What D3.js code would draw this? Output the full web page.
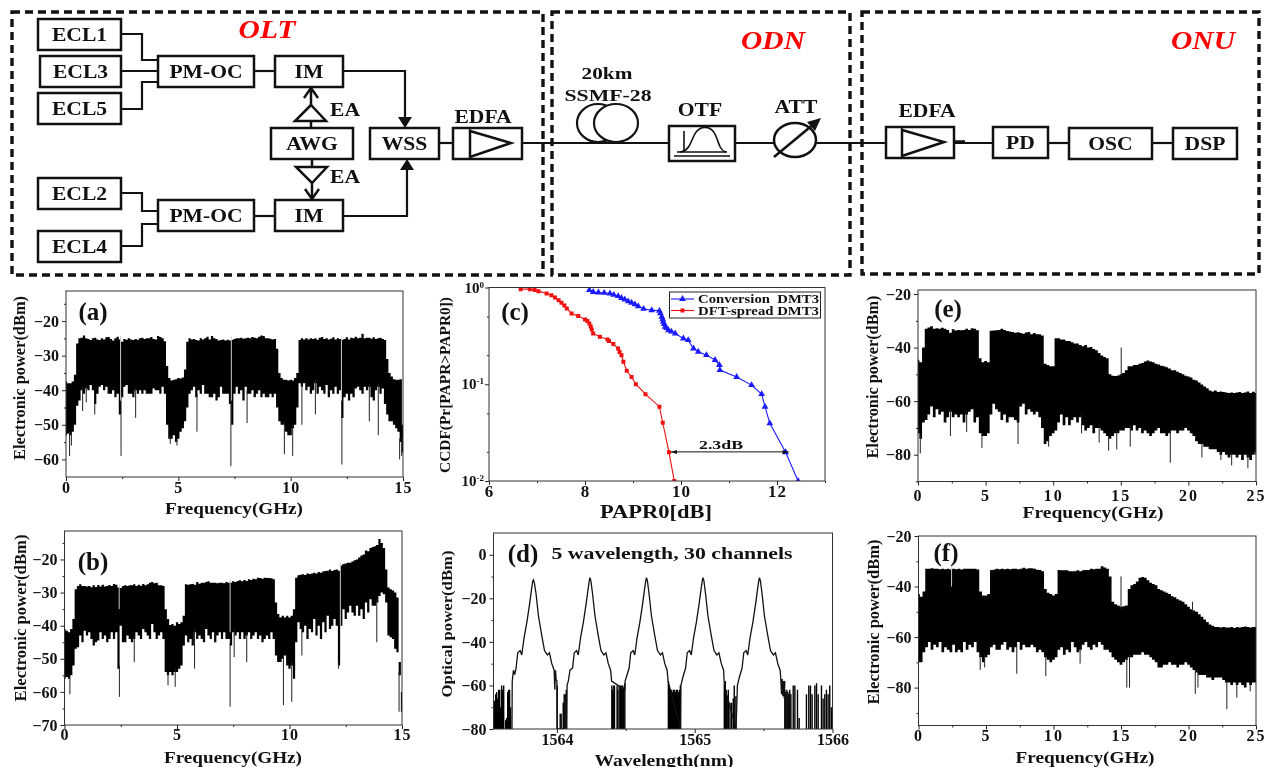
<!DOCTYPE html>
<html>
<head>
<meta charset="utf-8">
<script src="https://cdn.jsdelivr.net/npm/d3@7"></script>
<style>
  html, body { margin: 0; padding: 0; background: #fff; }
  svg { display: block; filter: blur(0.45px); }
  text { font-family: "Liberation Serif", serif; font-weight: bold; fill: #111; }
</style>
</head>
<body>
<div id="chart"></div>
<script>
// ----- DATA -----
// spectra: band top and band bottom per step of frequency (one row = 1 GHz)
const aTop = [
  -37.5,-38,-38,-37.5,-35.5,-26.5,-25,-24.8,-24.2,-25,
  -25.2,-25.5,-25,-24.8,-25.3,-25.5,-25,-25.3,-24.7,-24.6,
  -25.2,-25.6,-25,-24.5,-25.3,-26,-25.2,-25.4,-25,-25.3,
  -25.5,-25.2,-25.4,-25,-24.8,-25.2,-25,-25,-24.6,-25.2,
  -25.3,-24.3,-24.6,-25,-25.8,-33,-36.5,-37.2,-37,-36.8,
  -36.5,-36.6,-36.3,-34,-26,-25,-25.3,-25.2,-25.5,-25.6,
  -25,-25.3,-25,-24.5,-25.3,-24.3,-25,-25.2,-25.6,-25.5,
  -25.3,-25.6,-25.4,-25.6,-25.5,-25.2,-25,-25,-24.8,-25.1,
  -25,-24.8,-25,-24.6,-24.8,-25,-24.5,-24.2,-24.3,-25,
  -25,-25.1,-25.3,-25.2,-28,-35,-36.5,-37,-37,-37.2,
  -37,-37.2,-36.5,-35,-25.5,-25,-25.3,-25,-25.3,-25,
  -25.2,-25,-25.4,-24.8,-24.6,-25.2,-25,-25.3,-25.1,-24.7,
  -25.3,-25,-25.2,-25.4,-25.2,-24.7,-25.3,-24.8,-25,-24.5,
  -25,-24.8,-23.7,-25,-24.8,-24.8,-25.1,-24.7,-25.2,-25,
  -24.8,-25.2,-25.5,-31,-35,-36,-36.8,-37,-37,-36.8,
  -50];
const aLow = [
  -53,-52.5,-53,-52,-50,-44.5,-43,-40,-41,-39.5,
  -40,-38.5,-40,-44,-41,-39,-38.5,-40,-39,-41,
  -41,-40,-42,-41,-47,-42,-39,-38.5,-41,-41,
  -42,-40,-41,-40,-41,-40,-41,-41,-41,-39.5,
  -40,-40,-41,-39,-41,-50,-54,-54,-53,-55,
  -54,-52,-51,-49,-45,-41,-40,-39,-42,-40,
  -41,-38.5,-41,-41,-42,-42,-41,-43,-42,-39,
  -41,-41,-41,-44,-50,-41,-39,-41,-40,-43,
  -39,-41,-41,-40,-42,-41,-40,-42,-41,-42,
  -42,-41,-42,-41,-45,-49,-50,-50,-52,-53,
  -53,-51,-50,-45,-38,-39,-38,-40,-39,-41,
  -40,-38,-41,-39,-40,-41,-38.5,-42,-40,-41,
  -39,-41,-40,-48,-42,-41,-43,-41,-42,-39.5,
  -39,-40,-41,-39,-40,-39,-42,-43,-40,-39,
  -41,-39.5,-44,-47,-49,-49,-50,-51,-52,-55,
  -58];
const aSpikeF = [0.16,0.24,0.74,0.9,1.28,2.45,3.1,4.64,4.94,5.83,7.34,8.06,9.72,10.09,10.5,11.1,12.28,13.5,13.9,14.85,14.94];
const aSpikeV = [-59,-56,-46,-43.5,-47,-59,-48,-55.5,-56,-52,-62,-49.5,-58.5,-59,-50,-47,-61.5,-49,-53,-60,-59];
const aNotchF = [2.43,7.36,12.26];
const aNotchV = [-43,-43,-43];

const bTop = [
  -41,-41.5,-42,-41,-38,-29,-28,-27.5,-28,-28,
  -28.2,-28,-28.4,-27.8,-28.3,-27.7,-28.2,-27.6,-28.2,-28,
  -27.7,-28,-27.4,-27.6,-28.5,-28.6,-28,-27.8,-28,-27.8,
  -27.8,-27.5,-28,-27.6,-27.9,-27.4,-27.8,-27.5,-27,-26.8,
  -27.2,-27,-27.8,-27.8,-28,-35,-38,-39.8,-39.5,-40,
  -39,-39.5,-39,-37,-27.5,-27.6,-27.5,-27.4,-27.6,-26.8,
  -27.3,-27,-27,-26.8,-26.6,-27,-27,-27,-27.2,-27,
  -27,-27.2,-26.8,-27,-27,-26.6,-26.8,-26.5,-26.3,-26.6,
  -26.2,-26.5,-26,-26.2,-25.8,-26,-25.5,-25.6,-25.8,-25.5,
  -25.6,-25.6,-25.7,-26,-33,-36.5,-37.5,-37,-37.5,-37,
  -37.5,-37,-35,-25.5,-24.8,-24.6,-24.5,-24.7,-24.2,-24.4,
  -24.2,-24,-24.2,-23.8,-24,-23.6,-23.5,-23.4,-23,-23.5,
  -23.2,-23,-23.4,-21.8,-21.4,-21.2,-21,-21,-20.6,-20.2,
  -20,-19.4,-18.8,-18.5,-17.3,-17.5,-16.5,-16.2,-16,-15.6,
  -13.8,-15,-16.5,-23,-28.5,-29,-29.4,-30,-31.5,-51,
  -60];
const bLow = [
  -56,-55.5,-56,-55,-52,-47,-46.5,-43,-45,-41.5,
  -43,-42,-44,-46,-45,-44.5,-42,-44,-43,-45,
  -44,-42,-44,-42,-53,-40,-45,-45,-43,-44,
  -45,-44,-42,-43,-44,-41,-42,-43,-44,-39.5,
  -42,-44,-43,-42,-44,-54,-55,-54,-55,-54,
  -54,-53,-52,-46,-43,-45,-44,-46,-42,-44,
  -43,-44,-45,-41,-43,-44,-42,-45,-43,-42,
  -44,-42,-44,-44,-46,-42,-43,-42,-44,-42,
  -44,-43,-42,-44,-43,-42,-44,-43,-45,-44,
  -43,-44,-42,-44,-49,-51,-51,-50,-49,-52,
  -53,-52,-56,-45,-39,-41,-42,-40,-44,-41,
  -42,-38,-43,-40,-44,-39,-42,-37,-41,-40,
  -38,-40,-52,-40,-35,-38,-36,-34,-36,-37,
  -34,-37,-35,-38,-33,-36,-32,-34,-34,-33,
  -31,-30,-30.5,-33,-43,-43.5,-44,-47,-48,-55,
  -66];
const bSpikeF = [0.24,2.44,3.1,4.6,4.92,5.78,7.36,7.54,8.1,9.73,10.1,10.55,12.18,13.88,14.87];
const bSpikeV = [-60.7,-61.5,-51,-58,-58.5,-53,-64.5,-49.5,-51,-64,-63,-49,-53,-45,-66];
const bNotchF = [2.43,7.36,12.26];
const bNotchV = [-35,-42,-40];

const eTop = [
  -44.5,-45.5,-40,-33,-32.5,
  -32,-33,-32.8,-33,-32.6,
  -33,-33.4,-34.5,-33.2,-33.6,
  -33.4,-33.5,-33.4,-33,-33.4,
  -32.8,-33,-33.5,-44,-45.5,
  -45,-45.5,-33.7,-33.6,-33.5,
  -33.4,-33,-33.4,-33.8,-34,
  -34.2,-34.5,-34.3,-34.6,-34.8,
  -34.4,-34.2,-35,-34.6,-35,
  -35,-35.5,-46,-46.5,-47,
  -47,-36.5,-36.5,-37,-37,
  -37.5,-37.5,-38,-38.5,-38.5,
  -39,-39.5,-39,-40,-39.8,
  -40.5,-41,-42,-43,-43.5,
  -44,-50,-50.5,-50.6,-50.4,
  -50,-49.5,-48.5,-47,-47,
  -46.5,-46.5,-46,-45.8,-45.2,
  -44.8,-45.2,-45.5,-46,-46.3,
  -46.8,-47,-47.3,-47.8,-48.5,
  -48.5,-49,-49.5,-50,-50.5,
  -50.8,-51.2,-52,-52.3,-53,
  -53.8,-54.5,-55.2,-56,-56.4,
  -56,-56.6,-56.4,-56.6,-56.8,
  -57,-56.8,-57,-56.8,-56.6,
  -57,-56.8,-56.4,-57,-56.5,
  -57];
const eLow = [
  -72,-74,-68,-67,-65,
  -62,-66,-63,-65,-64,
  -68,-66,-64,-66,-65,
  -66,-65,-68,-65,-64,
  -63,-68,-66,-72,-73,
  -73,-72,-65,-61,-63,
  -64,-67,-65,-68,-66,
  -66,-67,-68,-62,-61,
  -65,-63,-64,-65,-64,
  -66,-70,-76,-75,-73,
  -72,-71,-68,-65,-69,
  -66,-69,-67,-66,-68,
  -66,-69,-71,-70,-69,
  -72,-70,-70,-71,-72,
  -73,-74,-73,-72,-72,
  -71,-71,-70,-70,-71,
  -69,-71,-70,-72,-71,
  -72,-73,-72,-71,-70,
  -72,-72,-73,-72,-71,
  -71,-72,-71,-71,-70,
  -71,-72,-73,-75,-76,
  -76,-77,-77,-78,-78,
  -78,-79,-80,-79,-80,
  -81,-80,-80,-81,-80,
  -82,-80,-81,-82,-80,
  -79];
const eSpikeF = [0.17,2.4,3.6,4.73,7.4,9.66,12.1,13.4,14.1,14.7,15.7,18.66,21,22.4,23.2,24.4,24.95];
const eSpikeV = [-79.5,-73,-71.5,-77.5,-76,-77,-72,-75.5,-78.5,-78,-77,-83,-81,-82,-84,-85,-80];
const eUpF = [15.03];
const eUpV = [-40];

const fTop = [
  -43,-44,-42,-33,-33,
  -32.8,-33,-33,-33.2,-33,
  -33.2,-33,-33.3,-33,-33.2,
  -33,-33.3,-33,-33,-33,
  -33,-33,-33.3,-42,-43.5,
  -43.5,-43,-33.5,-33.4,-33,
  -33.2,-33,-33.2,-33,-33.2,
  -33,-33,-33.2,-33,-32.6,
  -33,-32.8,-32.8,-33,-33.4,
  -33.5,-34,-41,-42.5,-43,
  -43.5,-43,-33.5,-33.6,-33.6,
  -33.6,-34,-34,-34,-33.6,
  -34,-33.6,-33.5,-33.5,-33,
  -33.2,-33,-33,-32,-32.5,
  -33,-36,-46,-47,-47.5,
  -48,-47.8,-47.5,-41,-39.5,
  -39,-38,-36.5,-36.2,-36.5,
  -37.5,-38.5,-39,-39.5,-41,
  -41.5,-42,-42.5,-43,-43.8,
  -44.2,-45,-45.5,-46,-47,
  -48,-49,-49.5,-50,-51,
  -52,-53,-54,-55,-55.5,
  -56,-56,-56.2,-56,-56.2,
  -56.2,-56,-56.4,-56,-56.2,
  -56,-55.8,-56,-56.2,-56,
  -56];
const fLow = [
  -70,-70,-66,-64,-62,
  -65,-63,-64,-62,-66,
  -64,-65,-66,-63,-66,
  -65,-66,-62,-65,-63,
  -64,-62,-66,-68,-70,
  -68,-67,-64,-63,-65,
  -65,-63,-62,-65,-64,
  -66,-64,-62,-65,-63,
  -64,-64,-63,-64,-66,
  -65,-66,-68,-69,-70,
  -69,-68,-65,-64,-67,
  -65,-66,-62,-64,-66,
  -65,-63,-62,-64,-65,
  -63,-64,-62,-63,-65,
  -65,-66,-68,-69,-70,
  -71,-70,-69,-68,-68,
  -67,-67,-67,-66,-67,
  -67,-68,-69,-70,-72,
  -72,-71,-71,-70,-71,
  -71,-72,-71,-71,-70,
  -71,-72,-73,-74,-75,
  -75,-75,-76,-76,-77,
  -76,-76,-76,-77,-78,
  -78,-79,-78,-79,-78,
  -79,-80,-78,-79,-78,
  -78];
const fSpikeF = [4.57,4.9,7.28,9.43,11.97,15.43,15.63,20.5,20.7,22.84,23.58,24.57];
const fSpikeV = [-73,-72,-74.5,-75.5,-70.5,-80,-80,-82.5,-80,-88.5,-84,-81.5];
const fNotchF = [2.45];
const fNotchV = [-40];
const fUpF = [15.0,20.3];
const fUpV = [-36,-46];

// panel (c): CCDF curves
const blueX = [8.09,8.17,8.28,8.4,8.52,8.6,8.69,8.76,8.83,8.9,8.97,9.04,9.11,9.22,9.39,9.55,9.57,9.6,9.62,9.63,9.65,9.67,9.7,9.74,9.8,9.88,10.05,10.15,10.26,10.36,10.53,10.71,10.8,10.81,11.16,11.47,11.68,11.75,11.85,12.18,12.44];
const blueY = [0.94,0.9,0.888,0.88,0.867,0.84,0.814,0.78,0.752,0.72,0.695,0.67,0.641,0.602,0.583,0.574,0.54,0.498,0.47,0.442,0.42,0.393,0.38,0.362,0.35,0.335,0.297,0.286,0.234,0.217,0.2,0.178,0.158,0.14,0.119,0.098,0.079,0.0586,0.0394,0.0198,0.01];
const redX = [6.66,6.85,6.95,7.03,7.2,7.3,7.375,7.45,7.51,7.57,7.62,7.72,7.86,8.0,8.05,8.09,8.12,8.14,8.17,8.31,8.47,8.5,8.59,8.69,8.72,8.76,8.8,8.87,8.97,9.06,9.26,9.55,9.62,9.75,9.86];
const redY = [0.961,0.961,0.94,0.917,0.867,0.83,0.789,0.74,0.695,0.65,0.607,0.539,0.506,0.467,0.45,0.425,0.395,0.368,0.335,0.31,0.29,0.28,0.26,0.234,0.215,0.2,0.171,0.138,0.119,0.1,0.079,0.0586,0.04,0.0198,0.01];

// panel (d): optical spectrum trace and noise stems
const optX = [
  1563.674,1563.676,1563.685,1563.694,1563.704,1563.716,1563.733,1563.745,1563.762,1563.782,1563.801,1563.818,1563.825,1563.83,1563.837,1563.849,1563.866,1563.89,1563.91,1563.931,1563.946,1563.963,1563.98,1563.985,1563.99,1563.994,1564,1564.002,
  1564.072,1564.074,1564.083,1564.095,1564.114,1564.126,1564.143,1564.155,1564.172,1564.192,1564.211,1564.228,1564.235,1564.24,1564.247,1564.259,1564.276,1564.3,1564.32,1564.341,1564.356,1564.373,1564.39,1564.397,
  1564.493,1564.495,1564.505,1564.524,1564.536,1564.553,1564.565,1564.582,1564.602,1564.621,1564.638,1564.645,1564.65,1564.657,1564.669,1564.686,1564.71,1564.73,1564.751,1564.766,1564.783,1564.8,1564.807,
  1564.898,1564.9,1564.915,1564.934,1564.946,1564.963,1564.975,1564.992,1565.012,1565.031,1565.048,1565.055,1565.06,1565.067,1565.079,1565.096,1565.12,1565.14,1565.161,1565.176,1565.193,1565.21,1565.215,
  1565.3,1565.31,1565.325,1565.344,1565.356,1565.373,1565.385,1565.402,1565.422,1565.441,1565.458,1565.465,1565.47,1565.477,1565.489,1565.506,1565.53,1565.55,1565.571,1565.586,1565.603,1565.62,1565.625,1565.63,1565.635,1565.64,1565.645,1565.65,1565.654];
const optY = [
  -80,-58,-53,-55,-52,-45,-44,-46,-38,-31,-23,-15,-12,-11.5,-13,-18,-28,-37,-44,-46,-45,-50,-53,-62,-53,-57,-58,-80,
  -80,-60,-58,-53,-52,-45,-44,-46,-38,-31,-23,-15,-12,-10.5,-12,-18,-28,-37,-44,-46,-45,-50,-53,-58,
  -62,-58,-56,-52,-45,-44,-46,-38,-31,-23,-15,-12,-10.5,-12,-18,-28,-37,-44,-46,-45,-50,-53,-58,
  -80,-60,-56,-52,-45,-44,-46,-38,-31,-23,-15,-12,-10.5,-12,-18,-28,-37,-44,-46,-45,-50,-53,-60,
  -80,-60,-56,-52,-45,-44,-46,-38,-31,-23,-15,-12,-10.5,-12,-18,-28,-37,-44,-46,-45,-50,-53,-57,-64,-57,-65,-58,-66,-58,-66];
const stemX = [
  1563.541,1563.548,1563.556,1563.563,1563.57,1563.577,1563.585,1563.592,1563.599,1563.606,1563.614,1563.628,1563.635,1563.643,1563.65,1563.657,1563.664,
  1564.002,1564.024,1564.031,1564.046,1564.053,1564.06,1564.068,
  1564.399,1564.403,1564.408,1564.413,1564.418,1564.437,1564.442,1564.452,1564.461,1564.466,1564.471,1564.478,1564.485,1564.493,
  1564.809,1564.816,1564.823,1564.831,1564.838,1564.845,1564.853,1564.86,1564.867,1564.874,1564.881,1564.889,1564.896,
  1565.215,1565.222,1565.229,1565.236,1565.244,1565.256,1565.268,1565.28,1565.287,1565.299,
  1565.654,1565.661,1565.669,1565.676,1565.683,1565.69,1565.698,1565.715,1565.727,1565.746,1565.758,1565.811,1565.828,1565.84,1565.852,1565.872,1565.884,1565.896,1565.92,1565.932,1565.944,1565.956,1565.968,1565.98,1565.992];
const stemY = [
  -67,-67,-64,-63,-66,-62,-62,-70,-60,-62,-60,-76,-75,-63,-62,-62,-70,
  -60,-73,-73,-68,-64,-64,-62,
  -60,-62,-64,-60,-60,-60,-62,-60,-60,-62,-60,-60,-61,-59,
  -58,-60,-62,-62,-63,-62,-62,-63,-62,-62,-63,-62,-60,
  -60,-58,-62,-65,-62,-68,-68,-66,-60,-65,
  -62,-63,-62,-63,-64,-62,-64,-60,-60,-62,-75,-64,-60,-60,-64,-60,-59,-64,-60,-66,-64,-62,-64,-60,-70];

// tick labels and other text
const legendLabels = ["Conversion  DMT3", "DFT-spread DMT3"];
const ticksA = [0, 5, 10, 15];
const ticksE = [0, 5, 10, 15, 20, 25];

// ----- LAYOUT -----
const W = 1265, H = 767;
const svg = d3.select("#chart").append("svg").attr("width", W).attr("height", H);

const SERIF = "'Liberation Serif', serif";

function label(txt, x, y, size, opts) {
  opts = opts || {};
  const t = svg.append("text").text(txt)
    .attr("text-anchor", opts.anchor || "middle")
    .attr("dominant-baseline", "central")
    .attr("font-size", size)
    .attr("transform", "translate(" + x + "," + y + ")" + (opts.rot ? " rotate(" + opts.rot + ")" : ""));
  if (opts.color) t.style("fill", opts.color);
  if (opts.italic) t.attr("font-style", "italic");
  if (opts.stretch) opts.len = t.node().getComputedTextLength() * opts.stretch;
  if (opts.len) t.attr("textLength", opts.len).attr("lengthAdjust", "spacingAndGlyphs");
  return t;
}

// ----- SCHEMATIC -----
const schem = svg.append("g").attr("fill", "none").attr("stroke", "#111");

function wire(pts, w) {
  schem.append("path").attr("d", d3.line()(pts)).attr("stroke-width", w || 2.2);
}
function tri(pts, w) {
  schem.append("path").attr("d", d3.line()(pts) + "Z").attr("fill", "#fff").attr("stroke-width", w || 2.5);
}
function head(x, y, dir) { // solid arrow head, dir +1 down, -1 up
  schem.append("path").attr("d", d3.line()([[x - 7, y - 11 * dir], [x + 7, y - 11 * dir], [x, y]]) + "Z")
    .attr("fill", "#111").attr("stroke", "none");
}

// dashed enclosures
[[12, 12, 531, 263], [552, 12, 298, 263], [862, 12, 397, 262]].forEach(r => {
  schem.append("rect").attr("x", r[0]).attr("y", r[1]).attr("width", r[2]).attr("height", r[3])
    .attr("stroke-width", 3.4).attr("stroke-dasharray", "8 5");
});

// wires first, so the boxes cover their ends
wire([[121, 34], [142, 34], [142, 60], [158, 60]]);
wire([[121, 71], [158, 71]]);
wire([[121, 109], [142, 109], [142, 82], [158, 82]]);
wire([[121, 193], [142, 193], [142, 211], [158, 211]]);
wire([[121, 246], [142, 246], [142, 224], [158, 224]]);
wire([[254, 71], [275, 71]]);
wire([[254, 216], [275, 216]]);
wire([[343, 71], [405, 71], [405, 120]]);
wire([[343, 216], [407, 216], [407, 165]]);
head(405, 128, 1);
head(407, 159, -1);
wire([[311, 128], [311, 90]], 2.5);
wire([[312, 159], [312, 198]], 2.5);
wire([[311, 88], [304, 98]], 2.5); wire([[311, 88], [318, 98]], 2.5);
wire([[312, 199], [305, 189]], 2.5); wire([[312, 199], [319, 189]], 2.5);
wire([[439, 143], [453, 143]]);
wire([[522, 143], [669, 143]]);
wire([[735, 143], [885, 143]]);
wire([[954, 143], [993, 143]]);
wire([[1048, 143], [1069, 143]]);
wire([[1152, 143], [1173, 143]]);

tri([[311, 105], [295, 121], [326, 121]]);
tri([[296, 167], [327, 167], [312, 183]]);

const boxes = [
  ["ECL1", 38, 19, 83, 31], ["ECL3", 40, 56, 81, 31], ["ECL5", 38, 93, 83, 31],
  ["ECL2", 38, 178, 83, 31], ["ECL4", 38, 231, 83, 31],
  ["PM-OC", 158, 56, 96, 31], ["PM-OC", 158, 200, 96, 31],
  ["IM", 275, 56, 68, 31], ["IM", 275, 200, 68, 31],
  ["AWG", 271, 128, 82, 31], ["WSS", 370, 128, 69, 31],
  ["", 453, 128, 69, 31], ["", 669, 126, 66, 35], ["", 886, 127, 68, 31],
  ["PD", 993, 127, 55, 31], ["OSC", 1069, 128, 83, 31], ["DSP", 1173, 128, 64, 31]
];
boxes.forEach(b => {
  schem.append("rect").attr("x", b[1]).attr("y", b[2]).attr("width", b[3]).attr("height", b[4])
    .attr("fill", "#fff").attr("stroke-width", 2.5);
});

// amplifier triangles inside the EDFA boxes
tri([[470, 131], [511, 143], [470, 157]]);
wire([[470, 128], [470, 159]], 1.5);
tri([[902, 130], [944, 142], [902, 156]]);
wire([[902, 127], [902, 158]], 1.5);
wire([[954, 142], [965, 142]], 3.5);

// fibre spool
schem.append("ellipse").attr("cx", 598).attr("cy", 123).attr("rx", 21).attr("ry", 19).attr("fill", "none").attr("stroke-width", 2.2);
schem.append("ellipse").attr("cx", 616).attr("cy", 123).attr("rx", 22).attr("ry", 19).attr("fill", "#fff").attr("stroke-width", 2.2);
wire([[590, 143], [640, 143]]);

// filter icon
wire([[677, 152], [727, 152]], 1.6);
wire([[674, 156], [730, 156]], 1.6);
wire([[684, 152], [684, 131]], 1.6);
schem.append("path").attr("stroke-width", 1.6)
  .attr("d", d3.line().curve(d3.curveBasis)([[680, 152], [689, 150], [695, 130], [705, 126], [715, 130], [720, 150], [726, 152]]));

// attenuator
schem.append("ellipse").attr("cx", 795).attr("cy", 140).attr("rx", 21).attr("ry", 17).attr("fill", "#fff").attr("stroke-width", 2.5);
wire([[774, 157], [815, 123]], 2.5);
schem.append("path").attr("d", d3.line()([[821, 118], [807, 122], [815, 131]]) + "Z").attr("fill", "#111").attr("stroke", "none");

boxes.forEach(b => {
  if (b[0]) label(b[0], b[1] + b[3] / 2, b[2] + b[4] / 2, 18, {stretch: 1.2});
});
label("EA", 345, 110, 18, {stretch: 1.2});
label("EA", 345, 177, 18, {stretch: 1.2});
label("EDFA", 483, 117, 18, {stretch: 1.2});
label("20km", 607, 73, 17, {stretch: 1.25});
label("SSMF-28", 608, 95, 17, {stretch: 1.28});
label("OTF", 700, 110, 18, {stretch: 1.2});
label("ATT", 796, 107, 18, {stretch: 1.2});
label("EDFA", 927, 111, 18, {stretch: 1.2});
label("OLT", 267, 29, 25, {color: "#f00", italic: true, stretch: 1.18});
label("ODN", 773, 40, 25, {color: "#f00", italic: true, stretch: 1.18});
label("ONU", 1203, 40, 25, {color: "#f00", italic: true, stretch: 1.18});

// ----- PLOT PANELS -----
function frame(p, xDomain, yDomain, yScaleType) {
  const x = d3.scaleLinear().domain(xDomain).range([p.l, p.r]);
  const y = (yScaleType || d3.scaleLinear()).domain(yDomain).range([p.b, p.t]);
  return {x, y};
}

function axes(p, s, xMajor, xMinor, yMajor, yMinor, yFmt, fontSize) {
  const g = svg.append("g");
  const xAxis = g.append("g").attr("transform", "translate(0," + p.b + ")")
    .call(d3.axisBottom(s.x).tickValues(xMajor).tickSize(4).tickPadding(p.xPad).tickFormat(d3.format("d")));
  g.append("g").attr("transform", "translate(0," + p.b + ")")
    .call(d3.axisBottom(s.x).tickValues(xMinor).tickSize(2).tickFormat(""));
  g.append("g").attr("transform", "translate(" + p.l + ",0)")
    .call(d3.axisLeft(s.y).tickValues(yMajor).tickSize(4).tickPadding(3).tickFormat(yFmt || d3.format("d")));
  g.append("g").attr("transform", "translate(" + p.l + ",0)")
    .call(d3.axisLeft(s.y).tickValues(yMinor).tickSize(2).tickFormat(""));
  g.selectAll("path.domain").remove();
  g.selectAll(".tick line").attr("stroke", "#222");
  g.selectAll(".tick text").style("font-family", SERIF).style("font-weight", "bold").style("fill", "#111")
    .style("font-size", (fontSize || 16) + "px");
  xAxis.selectAll(".tick text").style("letter-spacing", (p.xSp || 0) + "px");
  g.append("rect").attr("x", p.l).attr("y", p.t).attr("width", p.r - p.l).attr("height", p.b - p.t)
    .attr("fill", "none").attr("stroke", "#333").attr("stroke-width", 1);
}

let clipId = 0;
function clip(p) {
  const id = "clip" + (clipId++);
  svg.append("clipPath").attr("id", id).append("rect")
    .attr("x", p.l).attr("y", p.t).attr("width", p.r - p.l).attr("height", p.b - p.t);
  return svg.append("g").attr("clip-path", "url(#" + id + ")");
}

function spectrum(p, s, step, top, low, spikeF, spikeV, notchF, notchV, upF, upV) {
  const g = clip(p);
  const rows = top.map((v, i) => ({f: i * step, hi: v, lo: low[i]}));
  g.append("path").datum(rows).attr("fill", "#000").attr("stroke", "none")
    .attr("d", d3.area().x(d => s.x(d.f)).y0(d => s.y(d.lo)).y1(d => s.y(d.hi)).curve(d3.curveStep));
  const at = f => rows[Math.round(f / step)];
  g.selectAll(".spike").data(spikeF).enter().append("line")
    .attr("x1", d => s.x(d)).attr("x2", d => s.x(d))
    .attr("y1", d => s.y(at(d).lo + 1)).attr("y2", (d, i) => s.y(spikeV[i]))
    .attr("stroke", "#222").attr("stroke-width", 1);
  if (notchF) g.selectAll(".notch").data(notchF).enter().append("line")
    .attr("x1", d => s.x(d)).attr("x2", d => s.x(d))
    .attr("y1", d => s.y(at(d).hi + 1)).attr("y2", (d, i) => s.y(notchV[i]))
    .attr("stroke", "#ccc").attr("stroke-width", 1);
  if (upF) g.selectAll(".up").data(upF).enter().append("line")
    .attr("x1", d => s.x(d)).attr("x2", d => s.x(d))
    .attr("y1", d => s.y(at(d).hi - 1)).attr("y2", (d, i) => s.y(upV[i]))
    .attr("stroke", "#222").attr("stroke-width", 1);
}

// (a)
const pA = {l: 66, r: 403, t: 291, b: 477, xPad: 1, xSp: 1};
const sA = frame(pA, [0, 15], [-65.1, -11.3]);
spectrum(pA, sA, 0.1, aTop, aLow, aSpikeF, aSpikeV, aNotchF, aNotchV);
axes(pA, sA, ticksA, [2.5, 7.5, 12.5], [-60, -50, -40, -30, -20], [-55, -45, -35, -25, -15]);
label("Frequency(GHz)", 234, 508, 16, {len: 138});
label("Electronic power(dBm)", 19, 378, 16, {rot: -90, len: 164});
label("(a)", 93, 311, 25);

// (b)
const pB = {l: 64.5, r: 402, t: 531, b: 725, xPad: 0, xSp: 1};
const sB = frame(pB, [0, 15], [-70, -11.4]);
spectrum(pB, sB, 0.1, bTop, bLow, bSpikeF, bSpikeV, bNotchF, bNotchV);
axes(pB, sB, ticksA, [2.5, 7.5, 12.5], [-70, -60, -50, -40, -30, -20], [-65, -55, -45, -35, -25, -15]);
label("Frequency(GHz)", 233, 757, 16, {len: 138});
label("Electronic power(dBm)", 20, 618, 16, {rot: -90, len: 167});
label("(b)", 93, 561, 25);

// (c)
const pC = {l: 489, r: 825, t: 287.5, b: 481, xPad: 0, xSp: 1};
const sC = frame(pC, [6, 13], [0.01, 1], d3.scaleLog());
const gC = clip(pC);
const curve = d3.line().x(d => sC.x(d[0])).y(d => sC.y(d[1]));
const blue = blueX.map((v, i) => [v, blueY[i]]);
const red = redX.map((v, i) => [v, redY[i]]);
[[blue, "#1a1aff", d3.symbolTriangle, 20], [red, "#f01010", d3.symbolSquare, 16]].forEach(c => {
  gC.append("path").datum(c[0]).attr("fill", "none").attr("stroke", c[1]).attr("stroke-width", 1.1).attr("d", curve);
  gC.selectAll(null).data(c[0]).enter().append("path")
    .attr("d", d3.symbol().type(c[2]).size(c[3]))
    .attr("fill", c[1])
    .attr("transform", d => "translate(" + sC.x(d[0]) + "," + sC.y(d[1]) + ")");
});
axes(pC, sC, [6, 8, 10, 12], [7, 9, 11, 13], [1, 0.1, 0.01], [0.5, 0.2, 0.05, 0.02], d => "", 17);
[[1, "0"], [0.1, "-1"], [0.01, "-2"]].forEach(t => {
  const lab = svg.append("text").attr("text-anchor", "end").attr("font-size", 15)
    .attr("x", 484).attr("y", sC.y(t[0]) + 5);
  lab.append("tspan").text("10");
  lab.append("tspan").text(t[1]).attr("font-size", 9).attr("dy", -5);
});
label("PAPR0[dB]", 656, 512, 18, {len: 112});
label("CCDF(Pr[PAPR>PAPR0])", 445, 385, 15, {rot: -90, len: 176});
label("(c)", 515, 311, 25);
// 2.3 dB marker
const y23 = sC.y(0.02);
svg.append("line").attr("x1", sC.x(9.79)).attr("x2", sC.x(12.24)).attr("y1", y23).attr("y2", y23)
  .attr("stroke", "#111").attr("stroke-width", 1);
[[9.79, 1], [12.24, -1]].forEach(a => {
  const px = sC.x(a[0]);
  svg.append("path").attr("fill", "#111")
    .attr("d", d3.line()([[px, y23], [px + a[1] * 6, y23 - 2], [px + a[1] * 6, y23 + 2]]) + "Z");
});
label("2.3dB", 721, 445, 12.5, {len: 44});
// legend
svg.append("rect").attr("x", 669.5).attr("y", 292).attr("width", 151).attr("height", 26)
  .attr("fill", "#fff").attr("stroke", "#222").attr("stroke-width", 1);
[[299, "#1a1aff", d3.symbolTriangle, 20], [310.5, "#f01010", d3.symbolSquare, 16]].forEach((l, i) => {
  svg.append("line").attr("x1", 671).attr("x2", 694).attr("y1", l[0]).attr("y2", l[0]).attr("stroke", l[1]).attr("stroke-width", 1.1);
  svg.append("path").attr("d", d3.symbol().type(l[2]).size(l[3])).attr("fill", l[1])
    .attr("transform", "translate(682.5," + l[0] + ")");
  label(legendLabels[i], 698, l[0], 11.5, {anchor: "start", len: 121}).style("white-space", "pre");
});

// (d)
const pD = {l: 493.5, r: 832.5, t: 533, b: 729, xPad: 1};
const sD = frame(pD, [1563.54, 1566], [-80, 10]);
const gD = clip(pD);
gD.selectAll(".stem").data(stemX).enter().append("line")
  .attr("x1", d => sD.x(d)).attr("x2", d => sD.x(d))
  .attr("y1", sD.y(-80)).attr("y2", (d, i) => sD.y(stemY[i]))
  .attr("stroke", "#000").attr("stroke-width", 1.4);
gD.append("path").datum(optX.map((v, i) => [v, optY[i]]))
  .attr("fill", "none").attr("stroke", "#111").attr("stroke-width", 1.3)
  .attr("d", d3.line().x(d => sD.x(d[0])).y(d => sD.y(d[1])));
axes(pD, sD, [1564, 1565, 1566], [1564.5, 1565.5], [0, -20, -40, -60, -80], [-10, -30, -50, -70], null, 16);
label("Wavelength(nm)", 664, 760, 16, {len: 139});
label("Optical power(dBm)", 447, 624, 15, {rot: -90, len: 147});
label("(d)", 523, 553, 25);
label("5 wavelength, 30 channels", 672, 553, 16, {len: 241});

// (e)
const pE = {l: 918, r: 1256, t: 290, b: 481.5, xPad: 4, xSp: 2};
const sE = frame(pE, [0, 25], [-90, -18.5]);
spectrum(pE, sE, 0.2, eTop, eLow, eSpikeF, eSpikeV, null, null, eUpF, eUpV);
axes(pE, sE, ticksE, [2.5, 7.5, 12.5, 17.5, 22.5], [-80, -60, -40, -20], [-90, -70, -50, -30]);
label("Frequency(GHz)", 1093, 512, 16, {len: 141});
label("Electronic power(dBm)", 872, 377, 16, {rot: -90, len: 163});
label("(e)", 948, 308, 25);

// (f)
const pF = {l: 918.5, r: 1256, t: 536, b: 725.5, xPad: 0, xSp: 2};
const sF = frame(pF, [0, 25], [-95, -20]);
spectrum(pF, sF, 0.2, fTop, fLow, fSpikeF, fSpikeV, fNotchF, fNotchV, fUpF, fUpV);
axes(pF, sF, ticksE, [2.5, 7.5, 12.5, 17.5, 22.5], [-80, -60, -40, -20], [-90, -70, -50, -30]);
label("Frequency(GHz)", 1085, 757, 16, {len: 139});
label("Electronic power(dBm)", 873, 622, 16, {rot: -90, len: 165});
label("(f)", 946, 552, 25);
</script>
</body>
</html>
